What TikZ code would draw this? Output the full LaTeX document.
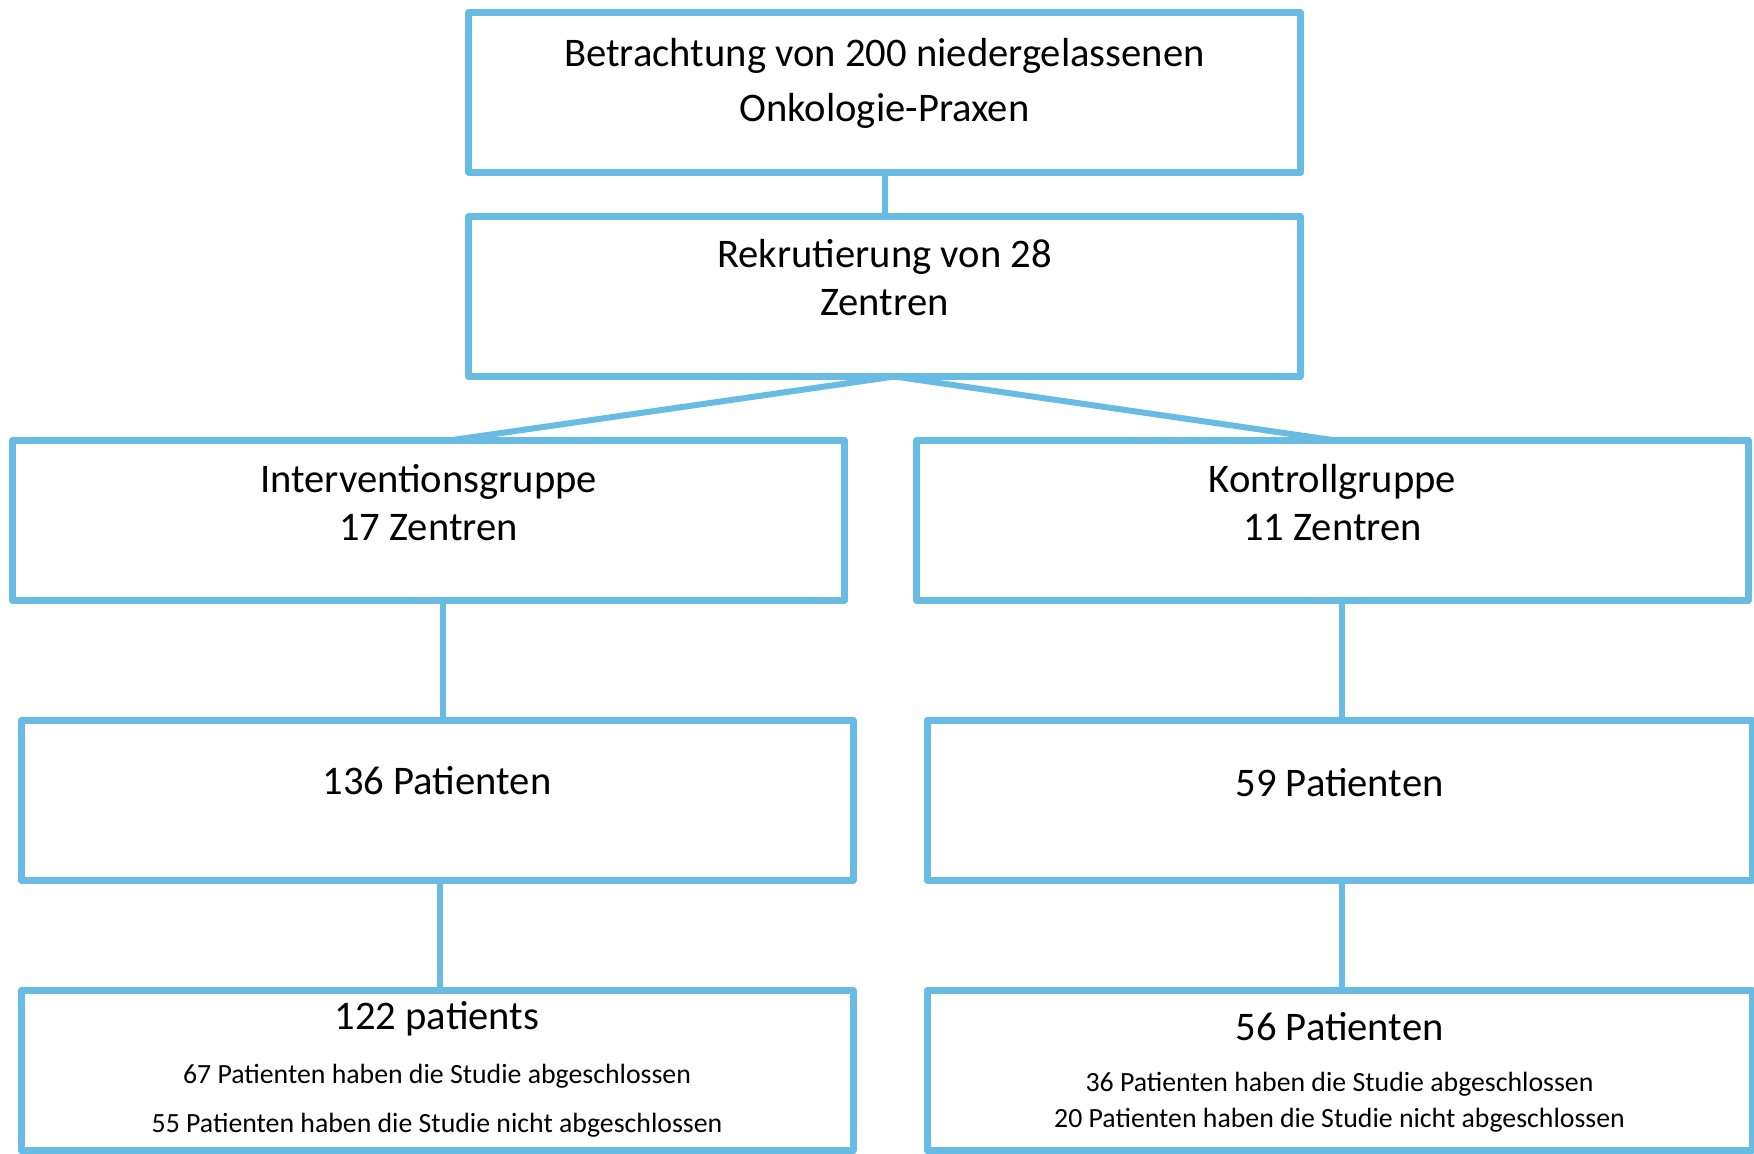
\documentclass[tikz,border=0pt]{standalone}
\usepackage{fontspec}
\setmainfont{Carlito}
\usetikzlibrary{positioning,calc}
\definecolor{boxblue}{RGB}{104,187,227}

\begin{document}
\begin{tikzpicture}[x=0.5pt,y=-0.5pt,
  box/.style={draw=boxblue, line width=3.5pt, line join=round, minimum width=416pt, minimum height=80pt, inner sep=0pt, outer sep=0pt},
  link/.style={draw=boxblue, line width=3pt},
  big/.style={font=\fontsize{20.3}{24}\selectfont, align=center, inner sep=0pt},
  small/.style={font=\fontsize{13.9}{24.5}\selectfont, align=center, inner sep=0pt}]
\useasboundingbox (0,0) rectangle (1754,1153);
% boxes:
\node[box] (onko) at (884.5,92) {};
\node[box] (rekrut) at (884.5,296.5) {};
\node[box] (interv) at (428.5,520) {};
\node[box] (kontr) at (1332.5,520) {};
\node[box] (ipat) at (437,800) {};
\node[box, minimum width=412.5pt] (kpat) at (1339.5,800) {};
\node[box] (iend) at (437,1070.5) {};
\node[box, minimum width=412.5pt] (kend) at (1339.5,1070.5) {};
% texts:
\node[big, font=\fontsize{20.3}{27.5}\selectfont] (onkotxt) at ([yshift=-35.75pt]onko.north) {Betrachtung von 200 niedergelassenen\\Onkologie-Praxen};
\node[big] (rekruttxt) at ([yshift=-30.5pt]rekrut.north) {Rekrutierung von 28\\Zentren};
\node[big] (intervtxt) at ([yshift=-31.5pt]interv.north) {Interventionsgruppe\\17 Zentren};
\node[big] (kontrtxt) at ([yshift=-31.5pt]kontr.north) {Kontrollgruppe\\11 Zentren};
\node[big] (ipattxt) at ([yshift=-30.5pt]ipat.north) {136 Patienten};
\node[big] (kpattxt) at ([yshift=-31.5pt]kpat.north) {59 Patienten};
\node[big] (iendtxt) at ([yshift=-14pt]iend.north) {122 patients};
\node[small] (ienddet) at ([yshift=-55.25pt]iend.north) {67 Patienten haben die Studie abgeschlossen\\55 Patienten haben die Studie nicht abgeschlossen};
\node[big] (kendtxt) at ([yshift=-18pt]kend.north) {56 Patienten};
\node[small, font=\fontsize{13.9}{18}\selectfont] (kenddet) at ([yshift=-56pt]kend.north) {36 Patienten haben die Studie abgeschlossen\\20 Patienten haben die Studie nicht abgeschlossen};
% connectors:
\draw[link] (onko) -- (rekrut);
\draw[link] ([xshift=5pt]rekrut.south) -- ([xshift=12pt]interv.north);
\draw[link] ([xshift=5pt]rekrut.south) -- (kontr.north);
\draw[link] ([xshift=3pt]interv.south -| ipat.north) -- ([xshift=3pt]ipat.north);
\draw[link] ([xshift=1.25pt]kontr.south -| kpat.north) -- ([xshift=1.25pt]kpat.north);
\draw[link] ([xshift=1.5pt]ipat.south) -- ([xshift=1.5pt]iend.north);
\draw[link] ([xshift=1.25pt]kpat.south) -- ([xshift=1.25pt]kend.north);
\end{tikzpicture}
\end{document}
